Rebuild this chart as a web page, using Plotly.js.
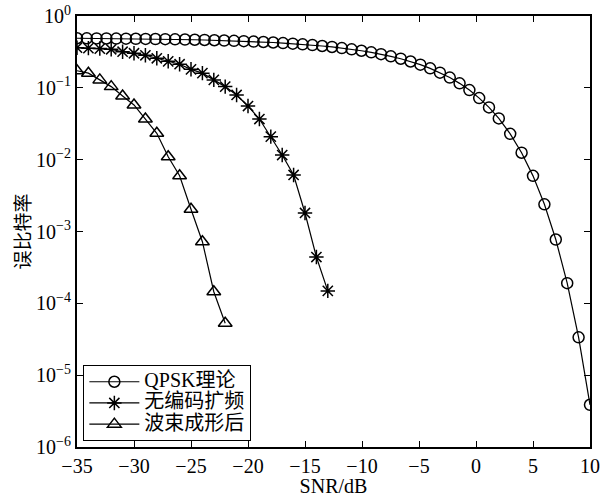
<!DOCTYPE html>
<html>
<head>
<meta charset="utf-8">
<script src="https://cdn.plot.ly/plotly-3.0.1.min.js"></script>
<style>html,body{margin:0;padding:0;background:#fff;}#chart{width:610px;height:497px;}</style>
</head>
<body>
<div id="chart"></div>
<script>
// QPSK theory curve
var qpskSnr = [-35.00,-34.14,-33.28,-32.42,-31.56,-30.70,-29.84,-28.98,-28.12,-27.26,-26.40,-25.53,-24.67,-23.81,-22.95,-22.09,-21.23,-20.37,-19.51,-18.65,-17.79,-16.93,-16.07,-15.21,-14.35,-13.49,-12.63,-11.77,-10.91,-10.05,-9.19,-8.33,-7.47,-6.60,-5.74,-4.88,-4.02,-3.16,-2.30,-1.44,-0.58,0.28,1.14,2.00,3,4,5,6,7,8,9,10];
var qpskBer = [0.490,0.489,0.488,0.4865,0.4851,0.4835,0.4818,0.4799,0.4778,0.4755,0.4730,0.4702,0.4671,0.4636,0.4598,0.4557,0.4512,0.4461,0.4405,0.4344,0.4276,0.4202,0.4120,0.4030,0.3932,0.3824,0.3706,0.3577,0.3436,0.3284,0.3119,0.2939,0.2748,0.2542,0.2326,0.2100,0.1867,0.1628,0.1390,0.1154,0.0930,0.0720,0.0534,0.0375,0.0229,0.0125,0.00595,0.00239,0.000773,0.000191,3.36e-5,3.87e-6];
// uncoded spread spectrum
var ssSnr = [-35,-34,-33,-32,-31,-30,-29,-28,-27,-26,-25,-24,-23,-22,-21,-20,-19,-18,-17,-16,-15,-14,-13];
var ssBer = [0.362,0.357,0.352,0.344,0.318,0.303,0.284,0.258,0.234,0.213,0.181,0.160,0.129,0.104,0.0796,0.0558,0.0368,0.0209,0.0116,0.00612,0.00181,0.000441,0.000149];
// after beamforming
var bfSnr = [-35,-34,-33,-32,-31,-30,-29,-28,-27,-26,-25,-24,-23,-22];
var bfBer = [0.173,0.160,0.129,0.104,0.0771,0.0577,0.0368,0.0233,0.0110,0.00598,0.00204,0.000721,0.000145,0.0000527];

var seriesNames = ['QPSK理论','无编码扩频','波束成形后'];
var xTickVals = [-35,-30,-25,-20,-15,-10,-5,0,5,10];
var yTickVals = [1e-6,1e-5,1e-4,1e-3,1e-2,1e-1,1];
var yTickText = ['10<sup>−6</sup>','10<sup>−5</sup>','10<sup>−4</sup>','10<sup>−3</sup>','10<sup>−2</sup>','10<sup>−1</sup>','10<sup>0</sup>'];

var serif = 'Liberation Serif, Times New Roman, serif';
var lineStyle = {color:'#000', width:1.2};
function legName(s){ return '<span style="font-size:20px">' + s + '</span>'; }

var traces = [
  {x:qpskSnr, y:qpskBer, name:legName(seriesNames[0]), mode:'lines+markers', line:lineStyle,
   marker:{symbol:'circle-open', size:11, color:'#000', line:{width:1.5, color:'#000'}}},
  {x:ssSnr, y:ssBer, name:legName(seriesNames[1]), mode:'lines+markers', line:lineStyle,
   marker:{symbol:'asterisk-open', size:12, color:'#000', line:{width:1.5, color:'#000'}}},
  {x:bfSnr, y:bfBer, name:legName(seriesNames[2]), mode:'lines+markers', line:lineStyle,
   marker:{symbol:'triangle-up-open', size:12, color:'#000', line:{width:1.5, color:'#000'}}}
];

var layout = {
  width:610, height:497,
  margin:{l:77, r:20, t:16, b:50},
  paper_bgcolor:'#fff', plot_bgcolor:'#fff',
  showlegend:true,
  font:{family:serif, size:20, color:'#000'},
  xaxis:{
    range:[-35,10], tickmode:'array', tickvals:xTickVals,
    ticks:'inside', ticklen:6, tickwidth:1, tickcolor:'#000',
    showline:true, linecolor:'#000', linewidth:2, mirror:'ticks',
    showgrid:false, zeroline:false,
    tickfont:{family:serif, size:20, color:'#000'},
    title:{text:'SNR/dB', font:{family:serif, size:20, color:'#000'}, standoff:0}
  },
  yaxis:{
    type:'log', range:[-6,0], tickmode:'array', tickvals:yTickVals, ticktext:yTickText,
    ticks:'inside', ticklen:6, tickwidth:1, tickcolor:'#000',
    showline:true, linecolor:'#000', linewidth:2, mirror:'ticks',
    showgrid:false, zeroline:false,
    tickfont:{family:serif, size:20, color:'#000'},
    title:{text:'误比特率', font:{family:'Noto Sans CJK SC, sans-serif', size:19, color:'#000'}, standoff:0}
  },
  legend:{
    x:0.012, y:0.014, xanchor:'left', yanchor:'bottom',
    bgcolor:'#fff', bordercolor:'#000', borderwidth:1.2,
    font:{family:'Liberation Serif, Noto Sans CJK SC, serif', size:14, color:'#000'},
    itemwidth:50, tracegroupgap:0
  }
};

Plotly.newPlot('chart', traces, layout, {staticPlot:true, displayModeBar:false});
</script>
</body>
</html>
